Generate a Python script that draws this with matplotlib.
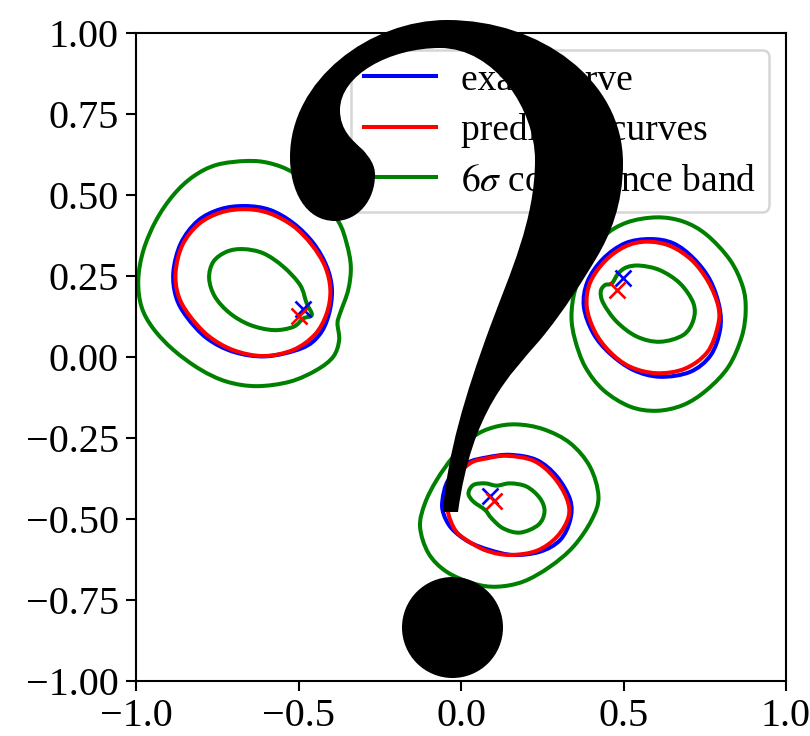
import matplotlib
matplotlib.use('Agg')
import numpy as np
import matplotlib.pyplot as plt
from matplotlib.path import Path
from matplotlib.patches import PathPatch, Circle
from matplotlib.transforms import Affine2D

plt.rcParams['font.family'] = ['Liberation Serif', 'DejaVu Serif']
plt.rcParams['mathtext.fontset'] = 'stix'

# curves, one group per loop
exact_left = [(-.665,.466),(-.588,.454),(-.516,.413),(-.454,.351),(-.413,.279),(-.397,.207),(-.407,.130),(-.436,.068),(-.490,.027),(-.600,.002),(-.700,.016),(-.782,.058),(-.844,.124),(-.877,.186),(-.885,.263),(-.862,.351),(-.810,.420),(-.741,.456)]
pred_left = [(-.659,.456),(-.588,.443),(-.516,.404),(-.459,.346),(-.418,.279),(-.402,.207),(-.413,.135),(-.449,.070),(-.516,.022),(-.608,.003),(-.700,.021),(-.777,.065),(-.837,.130),(-.870,.191),(-.878,.263),(-.857,.346),(-.806,.411),(-.736,.447)]
outer_left = [(-.659,.605),(-.588,.598),(-.516,.569),(-.444,.510),(-.377,.418),(-.352,.351),(-.339,.279),(-.347,.207),(-.372,.135),(-.380,.104),(-.375,.052),(-.393,.001),(-.444,-.040),(-.526,-.076),(-.629,-.090),(-.721,-.076),(-.803,-.038),(-.885,.022),(-.947,.088),(-.983,.155),(-.993,.238),(-.977,.330),(-.938,.422),(-.885,.500),(-.824,.557),(-.752,.593)]
inner_left = [(-.670,.333),(-.608,.320),(-.547,.279),(-.495,.222),(-.475,.166),(-.459,.130),(-.485,.119),(-.516,.093),(-.577,.083),(-.649,.099),(-.711,.135),(-.757,.186),(-.775,.243),(-.762,.294),(-.721,.325)]

exact_right = [(.582,.364),(.653,.351),(.715,.305),(.766,.238),(.795,.155),(.797,.083),(.768,.005),(.705,-.046),(.612,-.061),(.530,-.040),(.458,.011),(.407,.073),(.378,.155),(.389,.232),(.436,.302),(.505,.351)]
pred_right = [(.571,.356),(.643,.343),(.710,.299),(.761,.232),(.792,.155),(.790,.094),(.758,.015),(.689,-.036),(.602,-.050),(.520,-.030),(.458,.016),(.412,.078),(.387,.155),(.397,.229),(.443,.296),(.505,.341)]
outer_right = [(.602,.431),(.684,.418),(.756,.377),(.828,.299),(.867,.217),(.876,.145),(.864,.063),(.823,-.030),(.756,-.102),(.684,-.148),(.602,-.166),(.520,-.153),(.438,-.102),(.382,-.030),(.351,.053),(.340,.125),(.351,.207),(.387,.294),(.438,.371),(.510,.415)]
inner_right = [(.551,.282),(.612,.268),(.674,.227),(.715,.166),(.715,.114),(.684,.068),(.612,.047),(.541,.063),(.479,.109),(.438,.166),(.430,.202),(.443,.222),(.464,.227),(.484,.258),(.510,.277)]

exact_bottom = [(.151,-.302),(.233,-.318),(.295,-.369),(.336,-.441),(.336,-.503),(.305,-.565),(.243,-.601),(.161,-.611),(.089,-.596),(.023,-.570),(-.029,-.529),(-.054,-.483),(-.057,-.441),(-.039,-.380),(.017,-.328),(.079,-.310)]
pred_bottom = [(.141,-.305),(.223,-.320),(.284,-.369),(.325,-.436),(.331,-.493),(.295,-.555),(.233,-.598),(.151,-.611),(.079,-.598),(.017,-.565),(-.018,-.534),(-.039,-.483),(-.039,-.441),(-.024,-.380),(.028,-.328),(.079,-.313)]
outer_bottom = [(.171,-.208),(.254,-.223),(.336,-.266),(.397,-.339),(.423,-.431),(.402,-.503),(.346,-.585),(.274,-.647),(.192,-.693),(.110,-.709),(.038,-.699),(-.044,-.663),(-.100,-.606),(-.126,-.524),(-.111,-.452),(-.075,-.380),(-.024,-.308),(.038,-.246),(.100,-.217)]
inner_bottom = [(.151,-.390),(.202,-.400),(.243,-.436),(.257,-.477),(.238,-.518),(.182,-.542),(.130,-.529),(.094,-.498),(.074,-.472),(.038,-.446),(.023,-.421),(.038,-.395),(.074,-.390),(.110,-.397)]

exact_marks = [(-.485,.147),(.499,.243),(.089,-.429)]
pred_marks = [(-.498,.126),(.479,.207),(.100,-.444)]

labels = ['exact curve', 'predicted curves', r'$6\sigma$ confidence band']
xticks = [-1.0, -0.5, 0.0, 0.5, 1.0]
yticks = [-1.0, -0.75, -0.5, -0.25, 0.0, 0.25, 0.5, 0.75, 1.0]


# closed smooth line through the read points
def loop(ax, pts, color, lw):
    p = np.array(pts)
    n = len(p)
    verts = [p[0]]
    codes = [Path.MOVETO]
    for i in range(n):
        a, b, c, d = p[i-1], p[i], p[(i+1) % n], p[(i+2) % n]
        verts += [b + (c-a)/6, c - (d-b)/6, c]
        codes += [Path.CURVE4]*3
    ax.add_patch(PathPatch(Path(verts, codes), fc='none', ec=color, lw=lw))


fig = plt.figure(figsize=(8.1, 7.36), dpi=100)
ax = fig.add_axes([136/810, 1-681/736, 650/810, 648/736])

lw = 2.9
for outer, inner in [(outer_left, inner_left), (outer_right, inner_right), (outer_bottom, inner_bottom)]:
    loop(ax, outer, 'green', lw)
    loop(ax, inner, 'green', lw)
for c in [exact_left, exact_right, exact_bottom]:
    loop(ax, c, 'blue', lw)
for c in [pred_left, pred_right, pred_bottom]:
    loop(ax, c, 'red', lw)

em = np.array(exact_marks)
pm = np.array(pred_marks)
ax.plot(em[:, 0], em[:, 1], 'x', color='blue', ms=11, mew=1.9)
ax.plot(pm[:, 0], pm[:, 1], 'x', color='red', ms=11, mew=1.9)

# legend handles
h1, = ax.plot([], [], color='blue', lw=lw)
h2, = ax.plot([], [], color='red', lw=lw)
h3, = ax.plot([], [], color='green', lw=lw)
leg = ax.legend([h1, h2, h3], labels, loc='upper right', fontsize=27, handlelength=1.92,
                handletextpad=0.67, labelspacing=0.42, borderpad=0.35, borderaxespad=0.45)
leg.get_frame().set_linewidth(1.8)

ax.set_xlim(-1, 1)
ax.set_ylim(-1, 1)
ax.set_xticks(xticks)
ax.set_yticks(yticks)
ax.xaxis.set_major_formatter(plt.FuncFormatter(lambda v, p: ('%.1f' % v).replace('-', '\u2212')))
ax.yaxis.set_major_formatter(plt.FuncFormatter(lambda v, p: ('%.2f' % v).replace('-', '\u2212')))
ax.tick_params(labelsize=29, length=7.5, width=1.5, pad=5)
for s in ax.spines.values():
    s.set_linewidth(1.5)

# the big question mark sitting over the chart, in picture pixels
q = [(Path.MOVETO, (443, 512)),
     (Path.CURVE4, (447, 455)), (Path.CURVE4, (465, 395)), (Path.CURVE4, (490, 327)),
     (Path.CURVE4, (510, 273)), (Path.CURVE4, (535, 220)), (Path.CURVE4, (535, 160)),
     (Path.CURVE4, (535, 110)), (Path.CURVE4, (495, 48)), (Path.CURVE4, (440, 48)),
     (Path.CURVE4, (390, 48)), (Path.CURVE4, (340, 75)), (Path.CURVE4, (340, 110)),
     (Path.CURVE4, (340, 130)), (Path.CURVE4, (352, 140)), (Path.CURVE4, (363, 150)),
     (Path.CURVE4, (370, 158)), (Path.CURVE4, (375, 165)), (Path.CURVE4, (375, 175)),
     (Path.CURVE4, (375, 200)), (Path.CURVE4, (358, 221)), (Path.CURVE4, (335, 221)),
     (Path.CURVE4, (305, 221)), (Path.CURVE4, (290, 190)), (Path.CURVE4, (290, 157)),
     (Path.CURVE4, (290, 80)), (Path.CURVE4, (370, 20)), (Path.CURVE4, (447, 20)),
     (Path.CURVE4, (540, 20)), (Path.CURVE4, (623, 80)), (Path.CURVE4, (623, 163)),
     (Path.CURVE4, (623, 205)), (Path.CURVE4, (610, 235)), (Path.CURVE4, (597, 257)),
     (Path.CURVE4, (585, 277)), (Path.CURVE4, (565, 310)), (Path.CURVE4, (540, 340)),
     (Path.CURVE4, (510, 375)), (Path.CURVE4, (472, 410)), (Path.CURVE4, (458, 512)),
     (Path.CLOSEPOLY, (443, 512))]
px = Affine2D().scale(1/810, -1/736).translate(0, 1) + fig.transFigure
fig.add_artist(PathPatch(Path([p for c, p in q], [c for c, p in q]), fc='black', ec='none', transform=px, zorder=10))
fig.add_artist(Circle((452.5, 627.5), 50.5, fc='black', ec='none', transform=px, zorder=10))

fig.savefig('out.png', dpi=100)
